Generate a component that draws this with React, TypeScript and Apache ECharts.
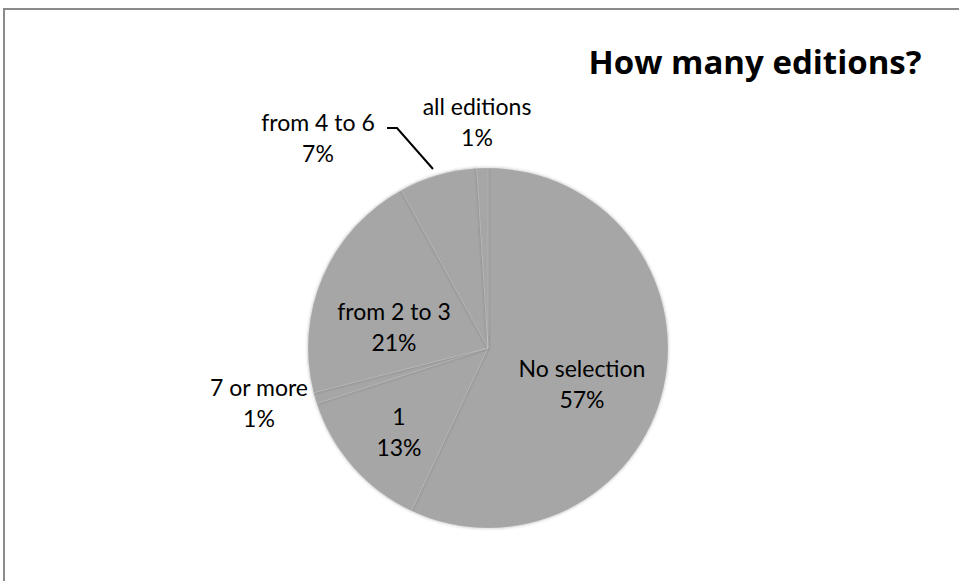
import React, { useEffect, useRef } from "react";
import * as echarts from "echarts";

const categories = ["No selection", "1", "7 or more", "from 2 to 3", "from 4 to 6", "all editions"];
const values = [57, 13, 1, 21, 7, 1];
const titleText = "How many editions?";

// label centres (layout only)
const labelCenters: [number, number][] = [
  [582, 383],
  [399, 431],
  [259, 402],
  [394, 326],
  [318, 137],
  [477, 121],
];

export default function App() {
  const ref = useRef<HTMLDivElement>(null);
  useEffect(() => {
    document.body.style.margin = "0";
    const chart = echarts.init(ref.current!, undefined, { renderer: "svg" });
    const font = "Lato, 'Open Sans', sans-serif";
    chart.setOption({
      animation: false,
      backgroundColor: "#ffffff",
      title: {
        text: titleText,
        left: 750,
        top: 40,
        textAlign: "center",
        textStyle: { fontFamily: "'Open Sans', Lato, sans-serif", fontSize: 33, fontWeight: "bold", color: "#000000" },
      },
      graphic: [
        {
          type: "rect",
          shape: { x: 4, y: 9, width: 1000, height: 700 },
          style: { fill: "none", stroke: "#8a8a8a", lineWidth: 2 },
          silent: true,
        },
      ],
      series: [
        {
          type: "pie",
          center: [488, 348],
          radius: 180,
          startAngle: 90,
          clockwise: true,
          percentPrecision: 0,
          itemStyle: {
            color: "#a6a6a6",
            borderColor: "rgba(255,255,255,0.12)",
            borderWidth: 1,
            shadowBlur: 3,
            shadowColor: "rgba(60,60,60,0.45)",
          },
          emphasis: { disabled: true },
          label: {
            show: true,
            position: "outside",
            formatter: "{b}\n{d}%",
            fontFamily: font,
            fontSize: 23,
            lineHeight: 31,
            color: "#000000",
            align: "center",
          },
          labelLine: { show: false },
          labelLayout: (params: any) => {
            const c = labelCenters[params.dataIndex];
            const res: any = { x: c[0], y: c[1], align: "center", verticalAlign: "middle" };
            if (params.dataIndex === 4) {
              res.labelLinePoints = [
                [433, 169],
                [397, 128],
                [387, 128],
              ];
            }
            return res;
          },
          data: categories.map((name, i) => ({
            name,
            value: values[i],
            labelLine:
              i === 4
                ? { show: true, length: 10, length2: 10, lineStyle: { color: "#000000", width: 2 } }
                : { show: false },
          })),
        },
      ],
    });
    return () => chart.dispose();
  }, []);
  return <div ref={ref} style={{ width: 959, height: 581 }} />;
}
